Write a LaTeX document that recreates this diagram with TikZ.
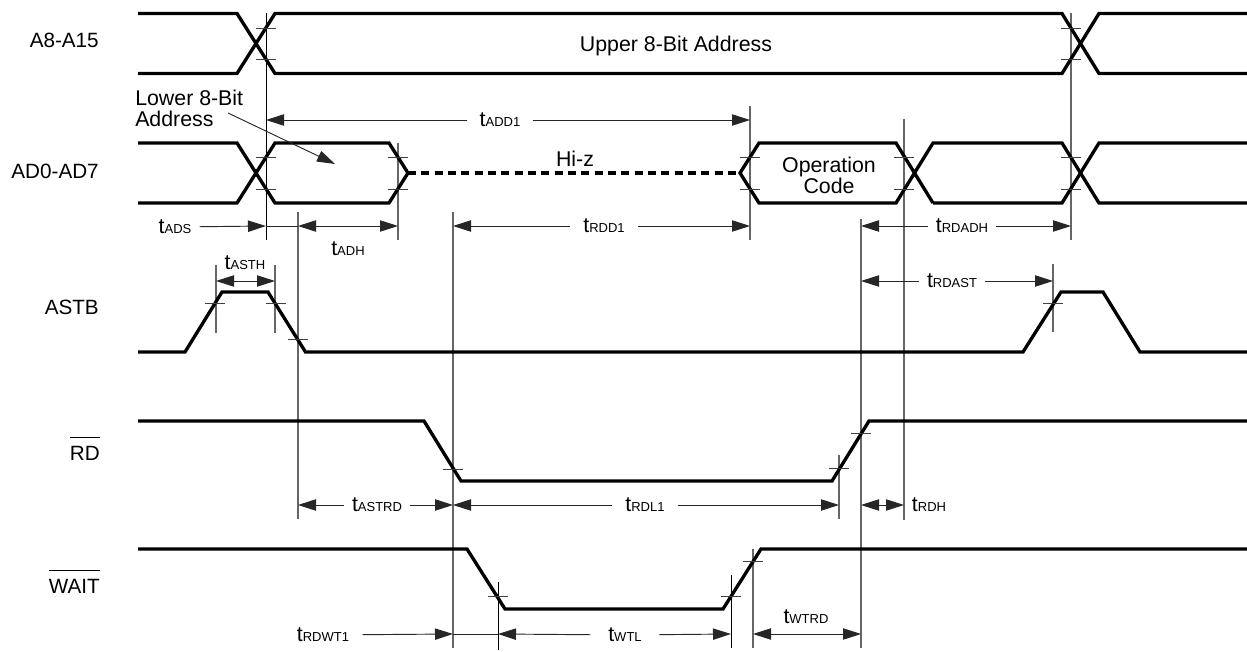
\documentclass[tikz,border=0pt]{standalone}
\usepackage{fontspec}
\setmainfont{Liberation Sans}
\usepackage{amsmath}
\usetikzlibrary{arrows.meta}
\newcommand{\lblfont}{\fontsize{15.5}{15.5}\selectfont}
\newcommand{\txtfont}{\fontsize{16}{15.75}\selectfont}
\newcommand{\tm}[1]{{\fontsize{16}{16}\selectfont t}{\fontsize{9.75}{9.75}\selectfont #1}}
\newcommand{\barred}[1]{$\overline{\rule{0pt}{15.5pt}\mbox{#1}}$}
\tikzset{
  wave/.style={line width=2.5pt,miter limit=10},
  hiz/.style={wave,dash pattern=on 6pt off 4pt},
  guide/.style={line width=.8pt,draw=black!60},
  guidek/.style={line width=.7pt,draw=black},
  tickmark/.style={line width=.6pt,draw=black!75},
  dim/.style={line width=.7pt,draw=black!85,-{Triangle[length=13.5pt,width=8.5pt]}},
  dimboth/.style={dim,{Triangle[length=13.5pt,width=8.5pt]}-{Triangle[length=13.5pt,width=8.5pt]}},
  plainline/.style={line width=.7pt,draw=black!85},
  sig/.style={anchor=east,inner sep=0pt,font=\lblfont},
  txt/.style={inner sep=0pt,font=\txtfont,align=center},
  tlbl/.style={inner xsep=6pt,inner ysep=0pt,font=\lblfont}
}
\begin{document}
\begin{tikzpicture}[x=.75pt,y=-.75pt]
\useasboundingbox (0,0) rectangle (1247,652);
% signal names
\node[sig] (A8) at (99,40) {A8-A15};
\node[sig] (AD0) at (99,171) {AD0-AD7};
\node[sig] (ASTB) at (99,307) {ASTB};
\node[sig] (RD) at (100,448) {\barred{RD}};
\node[sig] (WAIT) at (100,581) {\barred{WAIT}};
% texts in the waveforms
\node[txt] (upper) at (676,46) {Upper 8-Bit Address};
\node[txt] (hiz) at (575,159) {Hi-z};
\node[txt] (opcode) at (829,175) {Operation\\Code};
\node[txt,anchor=west,align=left] (lower) at (135,108) {Lower 8-Bit\\Address};
% guide lines
\coordinate (G266a) at (266,13);   \coordinate (G266b) at (266,240);
\coordinate (G1071a) at (1071,13); \coordinate (G1071b) at (1071,240);
\coordinate (G398a) at (398,143);  \coordinate (G398b) at (398,240);
\coordinate (G750a) at (750,106);  \coordinate (G750b) at (750,240);
\coordinate (G904a) at (904,119);  \coordinate (G904b) at (904,520);
\coordinate (G861a) at (861,219);  \coordinate (G861b) at (861,648);
\coordinate (G298a) at (298,212);  \coordinate (G298b) at (298,519);
\coordinate (G453a) at (453,212);  \coordinate (G453b) at (453,648);
\coordinate (G216a) at (216,265);  \coordinate (G216b) at (216,333);
\coordinate (G275a) at (275,265);  \coordinate (G275b) at (275,333);
\coordinate (G1053a) at (1053,264);\coordinate (G1053b) at (1053,332);
\coordinate (G839a) at (839,455);  \coordinate (G839b) at (839,519);
\coordinate (G498a) at (498,582);  \coordinate (G498b) at (498,650);
\coordinate (G731a) at (731,575);  \coordinate (G731b) at (731,648);
\coordinate (G753a) at (753,549);  \coordinate (G753b) at (753,648);
\draw[guidek] (G266a) -- (G266b);
\draw[guide] (G1071a) -- (G1071b);
\draw[guide] (G398a) -- (G398b);
\draw[guide] (G750a) -- (G750b);
\draw[guide] (G904a) -- (G904b);
\draw[guide] (G861a) -- (G861b);
\draw[guide] (G298a) -- (G298b);
\draw[guide] (G453a) -- (G453b);
\draw[guide] (G216a) -- (G216b);
\draw[guide] (G275a) -- (G275b);
\draw[guide] (G1053a) -- (G1053b);
\draw[guide] (G839a) -- (G839b);
\draw[guidek] (G498a) -- (G498b);
\draw[guidek] (G731a) -- (G731b);
\draw[guide] (G753a) -- (G753b);
% waveforms
\draw[wave] (138,13.5) -- (237,13.5) -- (275,73.5) -- (1062,73.5) -- (1099,13.5) -- (1247,13.5);
\draw[wave] (138,73.5) -- (237,73.5) -- (275,13.5) -- (1062,13.5) -- (1099,73.5) -- (1247,73.5);
\draw[wave] (138,143) -- (237,143) -- (275,203) -- (389,203) -- (408,173) -- (389,143) -- (275,143) -- (237,203) -- (138,203);
\draw[hiz] (408,173) -- (740,173);
\draw[wave] (933,203) -- (896,143) -- (759,143) -- (740,173) -- (759,203) -- (896,203) -- (933,143) -- (1062,143) -- (1099,203) -- (1247,203);
\draw[wave] (933,203) -- (1062,203) -- (1099,143) -- (1247,143);
\draw[wave] (138,352) -- (185,352) -- (222,292) -- (268,292) -- (305.5,352) -- (1023,352) -- (1061,292) -- (1103,292) -- (1140,352) -- (1247,352);
\draw[wave] (138,421) -- (424,421) -- (461,481) -- (832,481) -- (869,421) -- (1247,421);
\draw[wave] (138,549) -- (467,549) -- (505,609) -- (723,609) -- (761,549) -- (1247,549);
% ticks
\draw[tickmark] (256,28) -- ++(20,0);
\draw[tickmark] (256,59) -- ++(20,0);
\draw[tickmark] (1061,28) -- ++(20,0);
\draw[tickmark] (1061,59) -- ++(20,0);
\draw[tickmark] (256,157) -- ++(20,0);
\draw[tickmark] (256,189) -- ++(20,0);
\draw[tickmark] (388,157) -- ++(20,0);
\draw[tickmark] (388,189) -- ++(20,0);
\draw[tickmark] (740,157) -- ++(20,0);
\draw[tickmark] (740,189) -- ++(20,0);
\draw[tickmark] (894,157) -- ++(20,0);
\draw[tickmark] (894,189) -- ++(20,0);
\draw[tickmark] (1061,157) -- ++(20,0);
\draw[tickmark] (1061,189) -- ++(20,0);
\draw[tickmark] (205,303) -- ++(20,0);
\draw[tickmark] (266,303) -- ++(20,0);
\draw[tickmark] (288,339) -- ++(20,0);
\draw[tickmark] (1043,303) -- ++(20,0);
\draw[tickmark] (443,469) -- ++(20,0);
\draw[tickmark] (829,468) -- ++(20,0);
\draw[tickmark] (851,433) -- ++(20,0);
\draw[tickmark] (488,596) -- ++(20,0);
\draw[tickmark] (721,596) -- ++(20,0);
\draw[tickmark] (743,561) -- ++(20,0);
% timing labels
\node[tlbl,inner xsep=9pt] (tADD1) at (500,120) {\tm{ADD1}};
\node[tlbl] (tADS) at (175,227) {\tm{ADS}};
\node[tlbl] (tADH) at (348,249) {\tm{ADH}};
\node[tlbl,inner xsep=10pt] (tRDD1) at (604,226) {\tm{RDD1}};
\node[tlbl] (tRDADH) at (962,226) {\tm{RDADH}};
\node[tlbl] (tRDAST) at (952,281) {\tm{RDAST}};
\node[tlbl] (tASTH) at (245,263) {\tm{ASTH}};
\node[tlbl] (tASTRD) at (377,505) {\tm{ASTRD}};
\node[tlbl,inner xsep=10pt] (tRDL1) at (645,505) {\tm{RDL1}};
\node[tlbl,inner xsep=0pt] (tRDH) at (929,505) {\tm{RDH}};
\node[tlbl,inner xsep=10pt] (tRDWT1) at (323,635) {\tm{RDWT1}};
\node[tlbl,inner xsep=13pt] (tWTL) at (625,635) {\tm{WTL}};
\node[tlbl] (tWTRD) at (806,617) {\tm{WTRD}};
% ends of the dimension arrows
\coordinate (ADD1_l) at (266,120);  \coordinate (ADD1_r) at (750,120);
\coordinate (ADS_r) at (266,226);
\coordinate (ADH_l) at (298,226);   \coordinate (ADH_r) at (398,226);
\coordinate (RDD1_l) at (453,226);  \coordinate (RDD1_r) at (750,226);
\coordinate (RDADH_l) at (861,226); \coordinate (RDADH_r) at (1071,226);
\coordinate (RDAST_l) at (861,281); \coordinate (RDAST_r) at (1053,281);
\coordinate (ASTH_l) at (216,281);  \coordinate (ASTH_r) at (275,281);
\coordinate (ASTRD_l) at (298,505); \coordinate (ASTRD_r) at (453,505);
\coordinate (RDL1_l) at (453,505);  \coordinate (RDL1_r) at (839,505);
\coordinate (RDH_l) at (861,505);   \coordinate (RDH_r) at (904,505);
\coordinate (RDWT1_r) at (453,634);
\coordinate (WTL_l) at (498,634);   \coordinate (WTL_r) at (731,634);
\coordinate (WTRD_l) at (753,634);  \coordinate (WTRD_r) at (861,634);
\coordinate (lower_a) at (228,113); \coordinate (lower_b) at (335,164);
\draw[dim] (tADD1) -- (ADD1_l);
\draw[dim] (tADD1) -- (ADD1_r);
\draw[dim] (tADS) -- (ADS_r);
\draw[plainline] (ADS_r) -- (ADH_l);
\draw[dimboth] (ADH_l) -- (ADH_r);
\draw[dim] (tRDD1) -- (RDD1_l);
\draw[dim] (tRDD1) -- (RDD1_r);
\draw[dim] (tRDADH) -- (RDADH_l);
\draw[dim] (tRDADH) -- (RDADH_r);
\draw[dim] (tRDAST) -- (RDAST_l);
\draw[dim] (tRDAST) -- (RDAST_r);
\draw[dimboth] (ASTH_l) -- (ASTH_r);
\draw[dim] (tASTRD) -- (ASTRD_l);
\draw[dim] (tASTRD) -- (ASTRD_r);
\draw[dim] (tRDL1) -- (RDL1_l);
\draw[dim] (tRDL1) -- (RDL1_r);
\draw[dimboth] (RDH_l) -- (RDH_r);
\draw[dim] (tRDWT1) -- (RDWT1_r);
\draw[plainline] (RDWT1_r) -- (WTL_l);
\draw[dim] (tWTL) -- (WTL_l);
\draw[dim] (tWTL) -- (WTL_r);
\draw[dimboth] (WTRD_l) -- (WTRD_r);
\draw[dim] (lower_a) -- (lower_b);
\end{tikzpicture}
\end{document}
